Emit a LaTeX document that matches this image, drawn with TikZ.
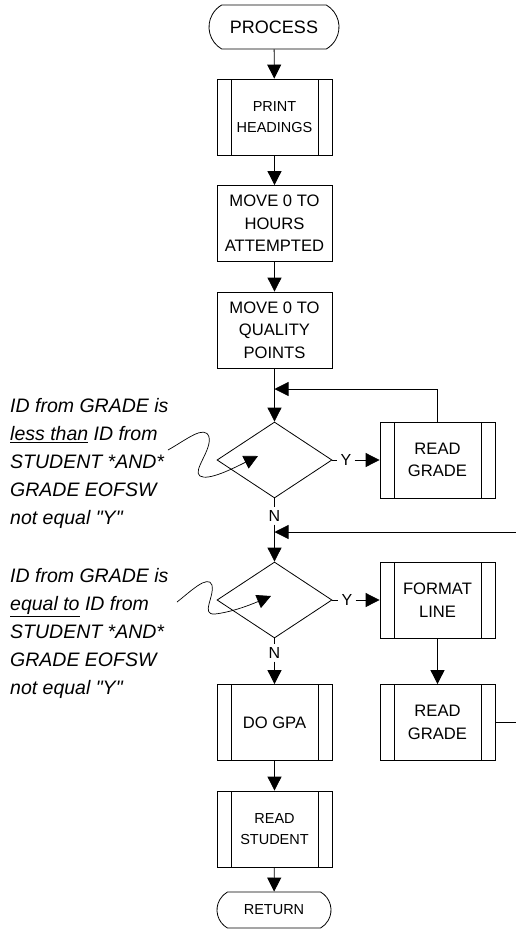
\documentclass[tikz,border=0pt]{standalone}
\usepackage{fontspec}
\setmainfont{Liberation Sans}
% same family without the TeX quote mapping, so " stays straight
\newfontfamily\notefont{Liberation Sans}
\usetikzlibrary{arrows.meta,shapes.geometric,shapes.misc}

\begin{document}
\begin{tikzpicture}[x=1pt,y=-1pt,
  every node/.style={inner sep=0pt},
  >={Triangle[length=14pt,width=14pt]},
  line/.style={draw=black,line width=0.8pt},
  fbig/.style={font=\fontsize{16.6}{22.5}\selectfont},
  fsmall/.style={font=\fontsize{14.5}{21}\selectfont},
  terminal/.style={rounded rectangle,rounded rectangle arc length=120,
    draw,line width=0.8pt},
  procbox/.style={rectangle,draw,line width=0.8pt,minimum width=115pt,
    minimum height=76pt,align=center,fbig},
  predef/.style={procbox,path picture={
    \draw[line width=0.8pt]
      ([xshift=14pt]path picture bounding box.north west) --
      ([xshift=14pt]path picture bounding box.south west)
      ([xshift=-14pt]path picture bounding box.north east) --
      ([xshift=-14pt]path picture bounding box.south east);}},
  decision/.style={diamond,draw,line width=0.8pt,minimum width=115pt,
    minimum height=76pt},
  lbl/.style={inner sep=3pt,font=\fontsize{16}{18}\selectfont},
  note/.style={align=left,anchor=north west,
    font=\notefont\fontsize{19.5}{28}\selectfont\itshape},
  squiggle/.style={draw=black,line width=0.7pt},
]
\useasboundingbox (0,0) rectangle (516,929);
\clip (0,0) rectangle (516,929);

% main column
\node[terminal,font=\fontsize{18}{22}\selectfont,minimum width=130pt,
  minimum height=44pt] (proc) at (274,27) {PROCESS};
\node[predef,fsmall] (ph) at (274.5,117) {PRINT\\HEADINGS};
\node[procbox] (hrs) at (274.5,223.5) {MOVE 0 TO\\HOURS\\ATTEMPTED};
\node[procbox] (qp) at (274.5,330) {MOVE 0 TO\\QUALITY\\POINTS};
\node[decision] (d1) at (274.5,460) {};
\node[decision] (d2) at (274.5,600) {};
\node[predef] (gpa) at (274.5,722.5) {DO GPA};
\node[predef,fsmall] (rs) at (274.5,829) {READ\\STUDENT};
\node[terminal,fsmall,minimum width=114pt,minimum height=36pt]
  (ret) at (274,910) {RETURN};

% right column
\node[predef] (rg1) at (437.5,460) {READ\\GRADE};
\node[predef] (fl) at (437.5,600) {FORMAT\\LINE};
\node[predef] (rg2) at (437.5,722.5) {READ\\GRADE};

% branch labels
\node[lbl] (y1) at (346,460) {Y};
\node[lbl] (n1) at (274.5,516) {N};
\node[lbl] (y2) at (347,600) {Y};
\node[lbl] (n2) at (274.5,653) {N};

% loop junctions
\coordinate (j1) at (274.5,389);
\coordinate (j2) at (274.5,532);
\coordinate (c2a) at (522,722.5);
\coordinate (c2b) at (522,532);

% condition notes
\node[note] (a1) at (10,398) {ID from GRADE is\\
  \underline{less than} ID from\\STUDENT *AND*\\GRADE EOFSW\\not equal "Y"};
\node[note] (a2) at (10,568) {ID from GRADE is\\
  \underline{equal to} ID from\\STUDENT *AND*\\GRADE EOFSW\\not equal "Y"};
\coordinate (s1) at (168,450);
\coordinate (t1) at (258,456);
\coordinate (s2) at (177,602);
\coordinate (t2) at (271,596);

% connectors
\draw[line,->] (proc) -- (ph);
\draw[line,->] (ph) -- (hrs);
\draw[line,->] (hrs) -- (qp);
\draw[line,->] (qp) -- (d1);
\draw[line,->] (rg1.north) |- (j1);
\draw[line] (d1) -- (y1);
\draw[line,->] (y1) -- (rg1);
\draw[line] (d1) -- (n1);
\draw[line,->] (n1) -- (d2);
\draw[line,->] (rg2.east) -- (c2a) -- (c2b) -- (j2);
\draw[line] (d2) -- (y2);
\draw[line,->] (y2) -- (fl);
\draw[line] (d2) -- (n2);
\draw[line,->] (n2) -- (gpa);
\draw[line,->] (fl) -- (rg2);
\draw[line,->] (gpa) -- (rs);
\draw[line,->] (rs) -- (ret);

% note pointers
\draw[squiggle,->] (s1) .. controls (186,440) and (205,424) .. (209,437)
  .. controls (212,450) and (192,471) .. (200,476)
  .. controls (208,481) and (232,469) .. (t1);
\draw[squiggle,->] (s2) .. controls (190,592) and (208,574) .. (212,585)
  .. controls (215,596) and (200,615) .. (215,614)
  .. controls (232,612) and (250,605) .. (t2);
\end{tikzpicture}
\end{document}
